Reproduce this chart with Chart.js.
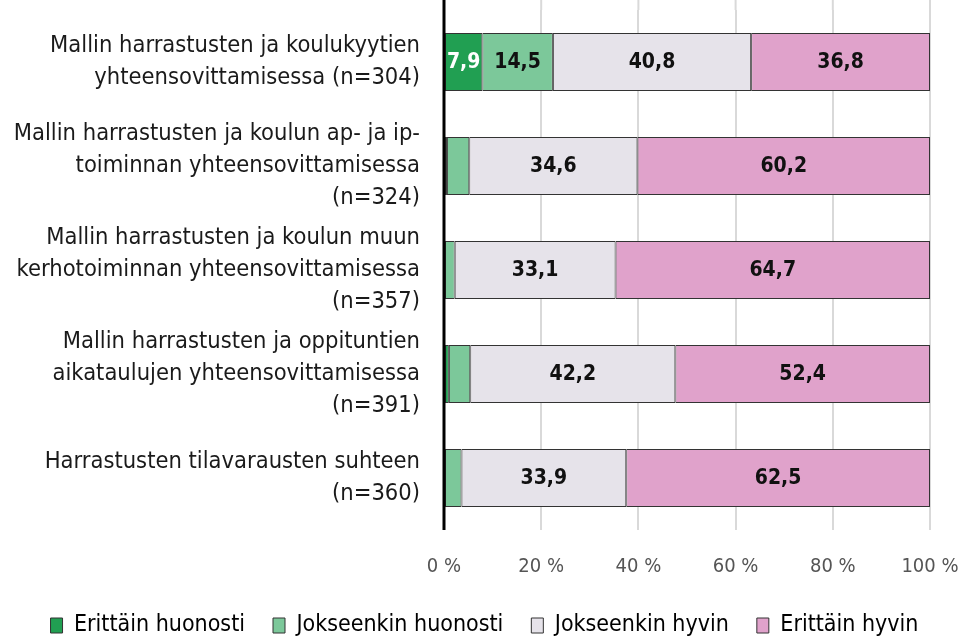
<!DOCTYPE html>
<html>
<head>
<meta charset="utf-8">
<script src="https://cdn.jsdelivr.net/npm/chart.js@4"></script>
<style>
  body { margin: 0; background: #fff; }
  #wrap { width: 969px; height: 638px; }
</style>
</head>
<body>
<div id="wrap"><canvas id="chart"></canvas></div>
<script>
const categories = [
  ['Mallin harrastusten ja koulukyytien', 'yhteensovittamisessa (n=304)'],
  ['Mallin harrastusten ja koulun ap- ja ip-', 'toiminnan yhteensovittamisessa', '(n=324)'],
  ['Mallin harrastusten ja koulun muun', 'kerhotoiminnan yhteensovittamisessa', '(n=357)'],
  ['Mallin harrastusten ja oppituntien', 'aikataulujen yhteensovittamisessa', '(n=391)'],
  ['Harrastusten tilavarausten suhteen', '(n=360)']
];
const seriesNames = ['Erittäin huonosti', 'Jokseenkin huonosti', 'Jokseenkin hyvin', 'Erittäin hyvin'];
const erittainHuonosti = [7.9, 0.6, 0, 1.0, 0];
const jokseenkinHuonosti = [14.5, 4.6, 2.2, 4.4, 3.6];
const jokseenkinHyvin = [40.8, 34.6, 33.1, 42.2, 33.9];
const erittainHyvin = [36.8, 60.2, 64.7, 52.4, 62.5];
const xTicks = [0, 20, 40, 60, 80, 100];

const colors = ['#219f52', '#7cc89a', '#e6e3ea', '#e0a2cb'];
const labelColors = ['#ffffff', '#111111', '#111111', '#111111'];
const FONT = '"DejaVu Sans Condensed", "Liberation Sans Narrow", sans-serif';

const seriesData = [erittainHuonosti, jokseenkinHuonosti, jokseenkinHyvin, erittainHyvin];

// draws value labels inside the bars
const barLabels = {
  id: 'barLabels',
  afterDatasetsDraw(chart) {
    const ctx = chart.ctx;
    ctx.save();
    ctx.font = 'bold 21px ' + FONT;
    ctx.textAlign = 'center';
    ctx.textBaseline = 'middle';
    chart.data.datasets.forEach((ds, i) => {
      const meta = chart.getDatasetMeta(i);
      meta.data.forEach((bar, j) => {
        const v = ds.data[j];
        if (v < 5) return;
        ctx.fillStyle = labelColors[i];
        ctx.fillText(v.toFixed(1).replace('.', ','), (bar.x + bar.base) / 2, bar.y + 1);
      });
    });
    ctx.restore();
  }
};

// axis line and gridlines run up to the top edge
const extendLines = {
  id: 'extendLines',
  beforeDatasetsDraw(chart) {
    const { ctx, chartArea, scales } = chart;
    ctx.save();
    ctx.strokeStyle = '#d9d9d9';
    ctx.lineWidth = 2;
    xTicks.forEach(t => {
      if (t === 0) return;
      const x = scales.x.getPixelForValue(t);
      ctx.beginPath();
      ctx.moveTo(x, 0);
      ctx.lineTo(x, chartArea.top);
      ctx.stroke();
    });
    ctx.restore();
  },
  afterDraw(chart) {
    const { ctx, chartArea } = chart;
    ctx.save();
    ctx.strokeStyle = '#000';
    ctx.lineWidth = 3;
    ctx.beginPath();
    ctx.moveTo(chartArea.left, 0);
    ctx.lineTo(chartArea.left, chartArea.bottom);
    ctx.stroke();
    ctx.restore();
  }
};

// legend keeps wide gaps between items but takes less height
const legendHeight = {
  id: 'legendHeight',
  beforeInit(chart) {
    const legend = chart.legend;
    const fit = legend.fit;
    legend.fit = function () {
      fit.call(this);
      this.height = 52;
    };
  }
};

new Chart(document.getElementById('chart'), {
  type: 'bar',
  data: {
    labels: categories,
    datasets: seriesNames.map((name, i) => ({
      label: name,
      data: seriesData[i],
      backgroundColor: colors[i],
      borderColor: '#333333',
      borderWidth: 1,
      borderSkipped: false,
      barPercentage: 0.56,
      categoryPercentage: 1
    }))
  },
  options: {
    indexAxis: 'y',
    responsive: true,
    maintainAspectRatio: false,
    animation: false,
    layout: { padding: { top: 10, right: 0, left: 0, bottom: 0 } },
    scales: {
      x: {
        stacked: true,
        min: 0,
        max: 100,
        afterBuildTicks: axis => { axis.ticks = xTicks.map(v => ({ value: v })); },
        afterFit: s => { s.paddingLeft = 0; s.paddingRight = 39; s.height = 56; },
        grid: { color: '#d9d9d9', lineWidth: 2, drawTicks: false },
        border: { display: false },
        ticks: {
          padding: 25,
          color: '#555555',
          font: { family: FONT, size: 20 },
          callback: v => v + ' %'
        }
      },
      y: {
        stacked: true,
        grid: { display: false, drawTicks: false },
        border: { display: false },
        afterFit: s => { s.paddingTop = 0; s.paddingBottom = 0; s.width = 444; },
        ticks: {
          autoSkip: false,
          padding: 24,
          color: '#1a1a1a',
          font: { family: FONT, size: 23.5, lineHeight: '32px' }
        }
      }
    },
    plugins: {
      legend: {
        position: 'bottom',
        labels: {
          boxWidth: 12,
          boxHeight: 15,
          padding: 28,
          color: '#1a1a1a',
          font: { family: FONT, size: 23 },
          generateLabels: chart => chart.data.datasets.map((ds, i) => ({
            text: ds.label,
            fillStyle: colors[i],
            strokeStyle: '#333333',
            lineWidth: 1,
            datasetIndex: i
          }))
        }
      },
      tooltip: { enabled: false }
    }
  },
  plugins: [barLabels, extendLines, legendHeight]
});
</script>
</body>
</html>
